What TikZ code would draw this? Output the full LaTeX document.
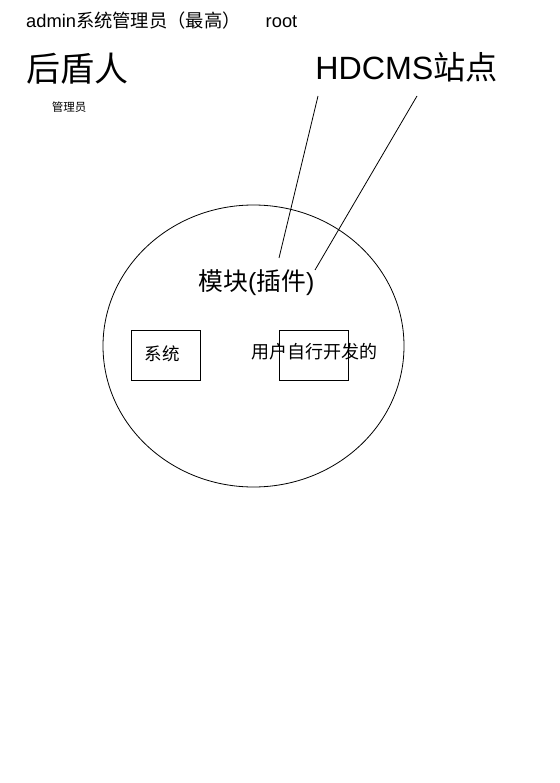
\documentclass[tikz,border=0pt]{standalone}
\usepackage{fontspec}
\setmainfont{Liberation Sans}
\newfontfamily\cjk{Noto Sans CJK SC}
\usetikzlibrary{shapes.geometric}
\begin{document}
\begin{tikzpicture}[x=1pt,y=-1pt,
  lbl/.style={inner sep=0pt, text=black},
  boxnode/.style={draw, line width=0.8pt, minimum width=69pt, minimum height=50pt, inner sep=0pt},
  conn/.style={draw, line width=0.8pt}]
\useasboundingbox[fill=white] (0,0) rectangle (559,783);
\node[lbl, anchor=base west, font=\fontsize{18.3}{21}\selectfont] (title) at (26,28) {admin{\cjk 系统管理员（最高）}\hspace{25pt}root};
\node[lbl, font=\fontsize{34}{37}\cjk] (hdr) at (77,69) {后盾人};
\node[lbl, font=\fontsize{11.5}{13}\cjk] (adm) at (69,107) {管理员};
\node[lbl, anchor=base, font=\fontsize{32.2}{36}\selectfont] (site) at (406.5,80) {HDCMS{\cjk 站点}};
\node[draw, ellipse, line width=0.8pt, minimum width=301pt, minimum height=282pt, inner sep=0pt] (mod) at (253.5,346) {};
\node[lbl, font=\fontsize{24.8}{28}\selectfont] (modt) at (256.5,283) {{\cjk 模块}({\cjk 插件})};
\node[boxnode] (sys) at (165.5,355) {};
\node[lbl, font=\fontsize{17.5}{20}\cjk] (syst) at (162,354) {系统};
\node[boxnode] (usr) at (314,355) {};
\node[lbl, font=\fontsize{18}{20}\cjk] (usrt) at (314.5,352) {用户自行开发的};
\coordinate (a1) at (318,96);
\coordinate (a2) at (279,258);
\coordinate (b1) at (417,96);
\coordinate (b2) at (315,270);
\draw[conn] (a1) -- (a2);
\draw[conn] (b1) -- (b2);
\end{tikzpicture}
\end{document}
